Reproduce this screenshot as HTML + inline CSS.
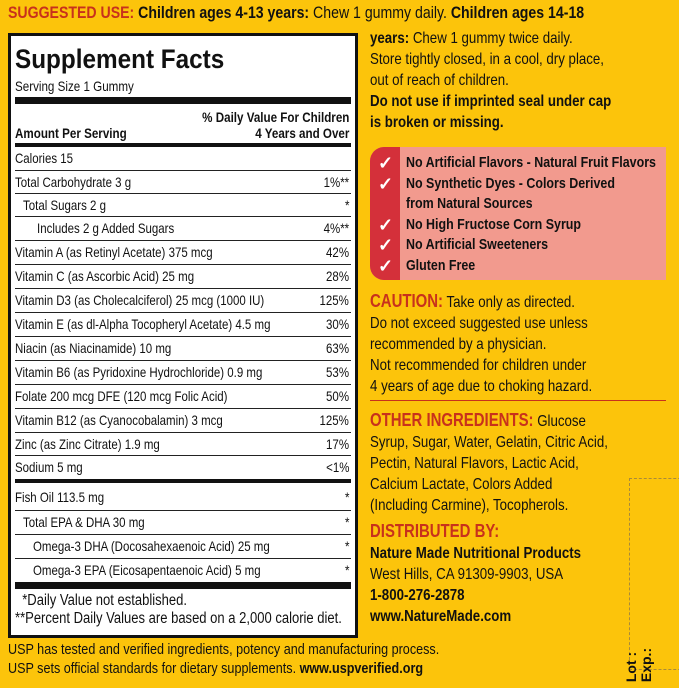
<!DOCTYPE html>
<html><head><meta charset="utf-8"><style>
body{margin:0;width:679px;height:688px;background:#fcc40b;position:relative;overflow:hidden;font-family:"Liberation Sans",sans-serif;color:#111}
.a{position:absolute;white-space:nowrap}
.s{transform:scaleX(.83);transform-origin:0 0}
#box{position:absolute;left:8px;top:33px;width:344px;height:599px;background:#fff;border:3px solid #111}
.r{position:absolute;left:4px;right:4px;font-size:14px;height:23px;line-height:23px;border-top:1px solid #222}
.r i{font-style:normal;display:inline-block;transform:scaleX(.82);transform-origin:0 50%}
.r span{position:absolute;right:2px;display:inline-block;transform:scaleX(.82);transform-origin:100% 50%}
.bar{position:absolute;left:4px;right:4px;background:#111}
.rt{font-size:16px;line-height:21px}
b{font-weight:bold}
.red{color:#c8311c;font-weight:bold}
</style></head><body>
<div class="a rt s" style="left:8px;top:2px;font-size:17px"><span class="red">SUGGESTED USE:</span> <b>Children ages 4-13 years:</b> Chew 1 gummy daily. <b>Children ages 14-18</b></div>
<div class="a rt s" style="left:370px;top:28px"><b>years:</b> Chew 1 gummy twice daily.<br>Store tightly closed, in a cool, dry place,<br>out of reach of children.<br><b>Do not use if imprinted seal under cap<br>is broken or missing.</b></div>
<div class="a" style="left:370px;top:147px;width:296px;height:133px;background:#f29a8e;border-radius:14px 0 0 14px;overflow:hidden">
<div style="position:absolute;left:0;top:0;width:30px;height:133px;background:#d4303a"></div>
<div class="a" style="left:8px;top:6px;color:#fff;font-size:18px;line-height:20.5px;font-weight:bold">✓<br>✓<br><br>✓<br>✓<br>✓</div>
<div class="a s" style="left:36px;top:6px;font-size:15px;line-height:20.5px;font-weight:bold">No Artificial Flavors - Natural Fruit Flavors<br>No Synthetic Dyes - Colors Derived<br>from Natural Sources<br>No High Fructose Corn Syrup<br>No Artificial Sweeteners<br>Gluten Free</div></div>
<div class="a rt s" style="left:370px;top:291px"><span class="red" style="font-size:18px">CAUTION:</span> Take only as directed.<br>Do not exceed suggested use unless<br>recommended by a physician.<br>Not recommended for children under<br>4 years of age due to choking hazard.</div>
<div class="a" style="left:370px;top:400px;width:296px;height:1px;background:#c8311c"></div>
<div class="a rt s" style="left:370px;top:410px"><span class="red" style="font-size:18px">OTHER INGREDIENTS:</span> Glucose<br>Syrup, Sugar, Water, Gelatin, Citric Acid,<br>Pectin, Natural Flavors, Lactic Acid,<br>Calcium Lactate, Colors Added<br>(Including Carmine), Tocopherols.</div>
<div class="a rt s" style="left:370px;top:521px"><span class="red" style="font-size:18px">DISTRIBUTED BY:</span><br><b>Nature Made Nutritional Products</b><br>West Hills, CA 91309-9903, USA<br><b>1-800-276-2878<br>www.NatureMade.com</b></div>
<div class="a" style="left:629px;top:478px;width:60px;height:190px;border:1px dashed #a88a3a"></div>
<div class="a" style="left:622px;top:650px;transform:rotate(-90deg);font-size:14px;font-weight:bold;line-height:15px">Lot :<br>Exp.:</div>
<div class="a" style="left:8px;top:640px;font-size:15px;line-height:19px;transform:scaleX(.84);transform-origin:0 0">USP has tested and verified ingredients, potency and manufacturing process.<br>USP sets official standards for dietary supplements. <b>www.uspverified.org</b></div>
<div id="box">
<div class="a" style="left:4px;top:8px;font-size:27px;font-weight:bold;transform:scaleX(.9);transform-origin:0 0">Supplement Facts</div>
<div class="a s" style="left:4px;top:42px;font-size:14px">Serving Size 1 Gummy</div>
<div class="bar" style="top:61px;height:7px"></div>
<div class="a" style="right:6px;top:73px;font-size:14px;font-weight:bold;text-align:right;line-height:16px;transform:scaleX(.83);transform-origin:100% 0">% Daily Value For Children<br>4 Years and Over</div>
<div class="a s" style="left:4px;top:89px;font-size:14px;font-weight:bold">Amount Per Serving</div>
<div class="bar" style="top:107px;height:4px"></div>
<div class="r" style="top:111px;border:0"><i>Calories 15</i></div>
<div class="r" style="top:134px"><i>Total Carbohydrate 3 g</i><span>1%**</span></div>
<div class="r" style="top:157px;padding-left:8px"><i>Total Sugars 2 g</i><span>*</span></div>
<div class="r" style="top:180px;padding-left:22px"><i>Includes 2 g Added Sugars</i><span>4%**</span></div>
<div class="r" style="top:204px"><i>Vitamin A (as Retinyl Acetate) 375 mcg</i><span>42%</span></div>
<div class="r" style="top:228px"><i>Vitamin C (as Ascorbic Acid) 25 mg</i><span>28%</span></div>
<div class="r" style="top:252px"><i>Vitamin D3 (as Cholecalciferol) 25 mcg (1000 IU)</i><span>125%</span></div>
<div class="r" style="top:276px"><i>Vitamin E (as dl-Alpha Tocopheryl Acetate) 4.5 mg</i><span>30%</span></div>
<div class="r" style="top:300px"><i>Niacin (as Niacinamide) 10 mg</i><span>63%</span></div>
<div class="r" style="top:324px"><i>Vitamin B6 (as Pyridoxine Hydrochloride) 0.9 mg</i><span>53%</span></div>
<div class="r" style="top:348px"><i>Folate 200 mcg DFE (120 mcg Folic Acid)</i><span>50%</span></div>
<div class="r" style="top:372px"><i>Vitamin B12 (as Cyanocobalamin) 3 mcg</i><span>125%</span></div>
<div class="r" style="top:396px"><i>Zinc (as Zinc Citrate) 1.9 mg</i><span>17%</span></div>
<div class="r" style="top:419px"><i>Sodium 5 mg</i><span>&lt;1%</span></div>
<div class="bar" style="top:443px;height:4px"></div>
<div class="r" style="top:450px;border:0"><i>Fish Oil 113.5 mg</i><span>*</span></div>
<div class="r" style="top:474px;padding-left:8px"><i>Total EPA &amp; DHA 30 mg</i><span>*</span></div>
<div class="r" style="top:498px;padding-left:18px"><i>Omega-3 DHA (Docosahexaenoic Acid) 25 mg</i><span>*</span></div>
<div class="r" style="top:522px;padding-left:18px"><i>Omega-3 EPA (Eicosapentaenoic Acid) 5 mg</i><span>*</span></div>
<div class="bar" style="top:546px;height:7px"></div>
<div class="a" style="left:4px;top:556px;font-size:15.5px;line-height:18px;transform:scaleX(.84);transform-origin:0 0">&nbsp;&nbsp;*Daily Value not established.<br>**Percent Daily Values are based on a 2,000 calorie diet.</div>
</div>
</body></html>
